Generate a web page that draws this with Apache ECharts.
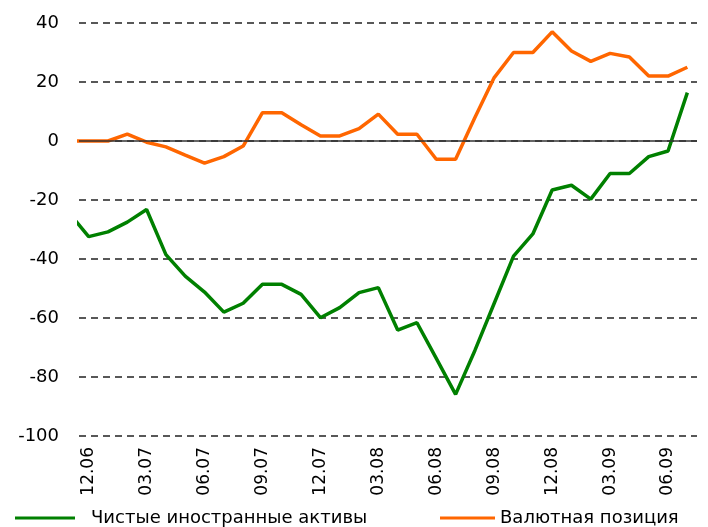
<!DOCTYPE html>
<html><head><meta charset="utf-8">
<script src="https://cdn.jsdelivr.net/npm/echarts@6/dist/echarts.min.js"></script>
<style>html,body{margin:0;padding:0;background:#fff}#c{width:708px;height:527px}</style>
</head><body><div id="c"></div>
<script>
const months = ['11.06','12.06',
  '01.07','02.07','03.07','04.07','05.07','06.07','07.07','08.07','09.07','10.07','11.07','12.07',
  '01.08','02.08','03.08','04.08','05.08','06.08','07.08','08.08','09.08','10.08','11.08','12.08',
  '01.09','02.09','03.09','04.09','05.09','06.09','07.09'];
const netForeignAssets = [-24.5, -32.4, -30.8, -27.5, -23.2, -38.5, -45.8, -51.2, -58, -55, -48.6, -48.6,
  -52, -59.9, -56.5, -51.4, -49.7, -64.1, -61.6, -73.7, -85.9, -71, -55, -39, -31.5, -16.6, -15, -19.7,
  -11, -11, -5.3, -3.4, 16.4];
const currencyPosition = [0, 0, 0, 2.3, -0.4, -2, -4.8, -7.5, -5.3, -1.7, 9.6, 9.6, 5.5, 1.7, 1.7, 4.2,
  9.1, 2.3, 2.3, -6.2, -6.2, 8, 21.5, 30, 30, 37, 30.5, 27, 29.7, 28.5, 22, 22, 25];
const tickLabels = ['12.06','03.07','06.07','09.07','12.07','03.08','06.08','09.08','12.08','03.09','06.09'];
const seriesNames = ['Чистые иностранные активы', 'Валютная позиция'];
const yTicks = {min: -100, max: 40, step: 20};

const toPairs = arr => arr.map((v, i) => [i, v]);
const font = 'DejaVu Sans';
const chart = echarts.init(document.getElementById('c'), null, {renderer: 'canvas'});
const legendText = {fontSize: 18, fontFamily: font, color: '#000'};
chart.setOption({
  animation: false,
  backgroundColor: '#fff',
  grid: {left: 79, right: 11, top: 23, bottom: 91},
  legend: [
    {data: [seriesNames[0]], left: 15, top: 509, icon: 'rect', itemWidth: 60, itemHeight: 3, padding: 0,
     textStyle: Object.assign({padding: [0, 0, 0, 11]}, legendText)},
    {data: [seriesNames[1]], left: 440, top: 509, icon: 'rect', itemWidth: 55, itemHeight: 3, padding: 0,
     textStyle: legendText}
  ],
  xAxis: {
    type: 'value', min: 0.5, max: months.length - 0.5,
    axisLine: {show: false}, axisTick: {show: false}, splitLine: {show: false},
    axisLabel: {
      customValues: tickLabels.map(l => months.indexOf(l)),
      formatter: v => months[Math.round(v)],
      rotate: 90, margin: 11, fontSize: 17, fontFamily: font, color: '#000'
    }
  },
  yAxis: {
    type: 'value', min: yTicks.min, max: yTicks.max, interval: yTicks.step,
    axisLine: {show: false}, axisTick: {show: false},
    axisLabel: {margin: 20, fontSize: 18, fontFamily: font, color: '#000'},
    splitLine: {lineStyle: {type: [7, 5], color: '#222', width: 1.5}}
  },
  series: [
    {
      name: seriesNames[0], type: 'line', data: toPairs(netForeignAssets),
      symbol: 'none', clip: true, color: '#008000',
      lineStyle: {width: 3.5, color: '#008000'},
      markLine: {
        silent: true, symbol: 'none', label: {show: false},
        lineStyle: {type: 'solid', color: '#333', width: 1.5},
        data: [{yAxis: 0}]
      }
    },
    {
      name: seriesNames[1], type: 'line', data: toPairs(currencyPosition),
      symbol: 'none', clip: true, color: '#FF6600',
      lineStyle: {width: 3.5, color: '#FF6600'}
    }
  ]
});
</script></body></html>
